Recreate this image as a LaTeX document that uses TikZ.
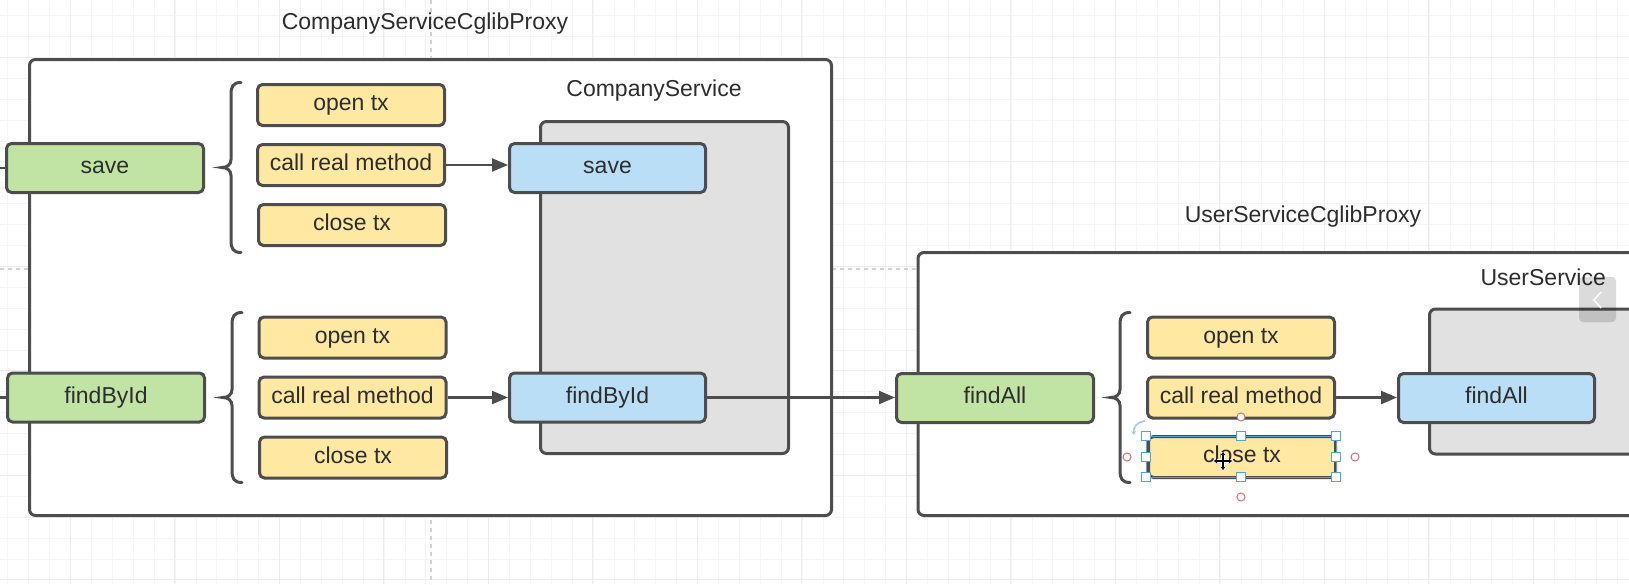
\documentclass[tikz,border=0pt]{standalone}
\usepackage{fontspec}
\setmainfont{Liberation Sans}
\usetikzlibrary{arrows.meta}
\definecolor{bord}{RGB}{77,77,77}
\definecolor{txt}{RGB}{45,45,45}
\definecolor{grn}{RGB}{193,228,164}
\definecolor{ylw}{RGB}{255,232,162}
\definecolor{blu}{RGB}{186,222,245}
\definecolor{gry}{RGB}{225,225,225}
\definecolor{gridminor}{RGB}{245,245,245}
\definecolor{gridmajor}{RGB}{237,237,237}
\definecolor{pagebreak}{RGB}{210,210,210}
\definecolor{selblue}{RGB}{80,165,215}
\definecolor{selred}{RGB}{215,110,110}
\definecolor{rotblue}{RGB}{170,200,232}
\begin{document}
\begin{tikzpicture}[x=1pt,y=-1pt,
  txtfont/.style={font=\fontsize{23}{27}\selectfont},
  box/.style={draw=bord, line width=3pt, rounded corners=5pt, text=txt, txtfont,
    inner sep=0pt, align=center, text height=16pt, text depth=5pt},
  grnbox/.style={box, fill=grn, minimum width=197pt, minimum height=49pt},
  ylwbox/.style={box, fill=ylw, minimum width=187pt, minimum height=41pt},
  blubox/.style={box, fill=blu, minimum width=196pt, minimum height=49pt},
  container/.style={draw=bord, line width=3pt, rounded corners=6pt, fill=white, inner sep=0pt},
  graybox/.style={draw=bord, line width=3pt, rounded corners=6pt, fill=gry, inner sep=0pt},
  lbl/.style={text=txt, txtfont, inner sep=0pt, text height=16pt, text depth=5pt},
  conn/.style={draw=bord, line width=2.2pt, -{Triangle[length=16pt,width=13pt]}},
  handlebox/.style={draw=selblue, fill=white, line width=1pt},
  anchorpt/.style={draw=selred, fill=white, line width=1pt},
  cbrace/.pic={\draw[bord, line width=3pt, line cap=round]
    (10,-85) .. controls (2,-85) and (0,-81) .. (0,-73) -- (0,-8)
    .. controls (0,-3) and (-4,0) .. (-9,0)
    .. controls (-4,0) and (0,3) .. (0,8) -- (0,73)
    .. controls (0,81) and (2,85) .. (10,85);}
]
\useasboundingbox (0,0) rectangle (1629,584);
\clip (0,0) rectangle (1629,584);
\fill[white] (0,0) rectangle (1629,584);
% grid
\foreach \gx in {7.8,28.7,...,1640} \draw[gridminor, line width=0.8pt] (\gx,0) -- (\gx,584);
\foreach \gy in {15.5,36.4,...,590} \draw[gridminor, line width=0.8pt] (0,\gy) -- (1629,\gy);
\foreach \gx in {70.3,174.8,...,1640} \draw[gridmajor, line width=1pt] (\gx,0) -- (\gx,584);
\foreach \gy in {57.3,161.8,...,590} \draw[gridmajor, line width=1pt] (0,\gy) -- (1629,\gy);
% page breaks
\draw[pagebreak, line width=1.5pt, dash pattern=on 4pt off 4pt] (431,0) -- (431,584);
\draw[pagebreak, line width=1.5pt, dash pattern=on 4pt off 4pt] (0,269) -- (1629,269);

% containers
\node[container, minimum width=802pt, minimum height=456pt] (cproxy) at (430.5,287.5) {};
\node[container, minimum width=782pt, minimum height=263pt] (uproxy) at (1309,384) {};
\node[lbl] (cproxyT) at (425,24) {CompanyServiceCglibProxy};
\node[lbl] (uproxyT) at (1303,217) {UserServiceCglibProxy};

% real services
\node[graybox, minimum width=248pt, minimum height=332pt] (csvc) at (664.5,287.5) {};
\node[lbl] (csvcT) at (654,91) {CompanyService};
\node[graybox, minimum width=271pt, minimum height=145pt] (usvc) at (1565,381.5) {};
\node[lbl, anchor=east] (usvcT) at (1606,280) {UserService};

% braces
\pic at (231,167.5) {cbrace};
\pic at (232,397.5) {cbrace};
\pic at (1120,397.5) {cbrace};

% yellow steps
\node[ylwbox] (o1) at (351,105) {open tx};
\node[ylwbox] (c1) at (351,165) {call real method};
\node[ylwbox] (x1) at (352,225) {close tx};
\node[ylwbox] (o2) at (352.5,337.5) {open tx};
\node[ylwbox] (c2) at (352.5,397.5) {call real method};
\node[ylwbox] (x2) at (353,457.5) {close tx};
\node[ylwbox] (o3) at (1241,337.5) {open tx};
\node[ylwbox] (c3) at (1241,397.5) {call real method};
\node[ylwbox] (x3) at (1242,457) {close tx};

% proxy methods
\node[grnbox] (gsave) at (105,168) {save};
\node[grnbox] (gfind) at (106,397.5) {findById};
\node[grnbox] (gall) at (995,398) {findAll};

% real methods
\node[blubox] (bsave) at (607.5,168) {save};
\node[blubox] (bfind) at (607.5,397.5) {findById};
\node[blubox] (ball) at (1496.5,398) {findAll};

% connectors
\coordinate (inS) at (0,168);
\coordinate (inF) at (0,397.5);
\draw[bord, line width=2.2pt] (inS) -- (gsave.west);
\draw[bord, line width=2.2pt] (inF) -- (gfind.west);
\draw[conn] (c1.east) -- (c1.east -| bsave.west);
\draw[conn] (c2.east) -- (c2.east -| bfind.west);
\draw[conn] (bfind.east) -- (bfind.east -| gall.west);
\draw[conn] (c3.east) -- (c3.east -| ball.west);

% selection overlay on close tx
\draw[selblue, line width=1pt] (1146,436) rectangle (1336,477);
\foreach \hx/\hy in {1146/436,1241/436,1336/436,1146/456.5,1336/456.5,1146/477,1241/477,1336/477}
  \draw[handlebox] (\hx-4.5,\hy-4.5) rectangle (\hx+4.5,\hy+4.5);
\foreach \cx/\cy in {1241/417,1127/457,1355/457,1241/497}
  \draw[anchorpt] (\cx,\cy) circle (4pt);
\draw[rotblue, line width=1.6pt, -{Stealth[length=4pt,width=5pt]}] (1145,421) .. controls (1137,422) and (1133,427) .. (1134,435);
% move cursor
\draw[white, line width=3.5pt] (1214,461) -- (1232,461) (1223,452) -- (1223,470);
\draw[black, line width=1.2pt, {Triangle[length=3pt,width=4.5pt]}-{Triangle[length=3pt,width=4.5pt]}] (1214,461) -- (1232,461);
\draw[black, line width=1.2pt, {Triangle[length=3pt,width=4.5pt]}-{Triangle[length=3pt,width=4.5pt]}] (1223,452) -- (1223,470);

% side panel tab
\fill[black, fill opacity=0.14, rounded corners=4pt] (1579,277) rectangle (1616,322);
\draw[white, line width=1.5pt] (1601,292) -- (1594,300) -- (1601,308);
\end{tikzpicture}
\end{document}
